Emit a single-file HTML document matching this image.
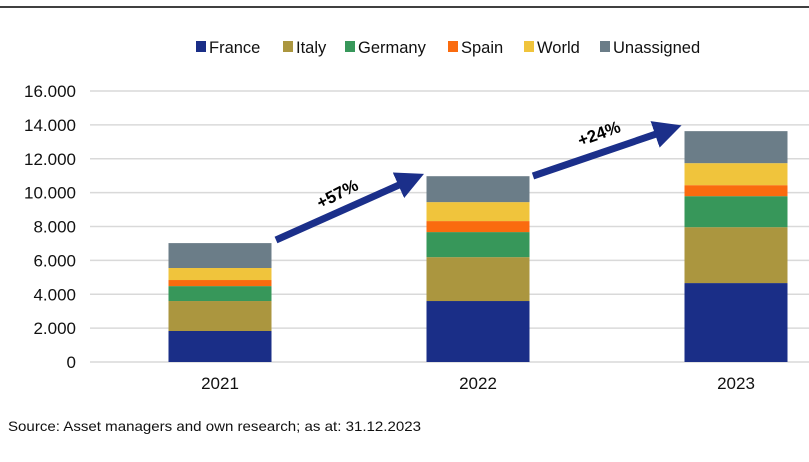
<!DOCTYPE html>
<html><head><meta charset="utf-8"><style>
body{margin:0;background:#fff;font-family:"Liberation Sans",sans-serif;}
svg{display:block}
</style></head><body>
<svg width="809" height="462" id="c">
<line x1="0" y1="7" x2="809" y2="7" stroke="#000" stroke-width="1.5"/>
<g id="grid"></g><g id="bars"></g><g id="legend"></g>
<defs><marker id="ah" markerWidth="4" markerHeight="4" refX="1.5" refY="2" orient="auto" markerUnits="strokeWidth"><path d="M0,0 L4,2 L0,4 Z" fill="#1b2f8a"/></marker></defs>
<line x1="276" y1="240" x2="408" y2="181" stroke="#1b2f8a" stroke-width="7" marker-end="url(#ah)"/>
<line x1="533" y1="176" x2="665" y2="131" stroke="#1b2f8a" stroke-width="7" marker-end="url(#ah)"/>
<text x="340" y="199" transform="rotate(-27 340 199)" font-size="17" font-weight="bold" text-anchor="middle">+57%</text>
<text x="601" y="139" transform="rotate(-20 601 139)" font-size="17" font-weight="bold" text-anchor="middle">+24%</text>
<text x="8" y="431" font-size="14" fill="#111" textLength="413" lengthAdjust="spacingAndGlyphs">Source: Asset managers and own research; as at: 31.12.2023</text>
</svg>
<script>
const categories=["2021","2022","2023"];
const seriesNames=["France","Italy","Germany","Spain","World","Unassigned"];
const colors=["#1a2e87","#ab963f","#37975a","#fa6b0f","#f0c43c","#6b7d88"];
const france=[1830,3600,4660];
const italy=[1770,2590,3300];
const germany=[880,1480,1830];
const spain=[360,650,650];
const world=[710,1120,1300];
const unassigned=[1470,1530,1890];
const yTicks=[0,2000,4000,6000,8000,10000,12000,14000,16000];
const yTickLabels=["0","2.000","4.000","6.000","8.000","10.000","12.000","14.000","16.000"];
const series=[france,italy,germany,spain,world,unassigned];
const NS="http://www.w3.org/2000/svg";
const y=v=>362-v*(271/16000);
const xc=i=>220+i*258;
const bw=103;
function mk(t,a,p){const e=document.createElementNS(NS,t);for(const k in a)e.setAttribute(k,a[k]);p.appendChild(e);return e;}
const g=document.getElementById('grid');
yTicks.forEach((t,i)=>{
 const l=mk('line',{x1:90,x2:809,y1:y(t),y2:y(t),stroke:'#d9d9d9','stroke-width':1.5},g);
 
 
 const tx=mk('text',{x:76,y:y(t)+6,'text-anchor':'end','font-size':17,fill:'#111'},g);
 tx.textContent=yTickLabels[i];
 
 
});
const b=document.getElementById('bars');
categories.forEach((c,i)=>{
 let acc=0;
 series.forEach((s,j)=>{
  const r=mk('rect',{x:xc(i)-bw/2,y:y(acc+s[i]),width:bw,height:y(acc)-y(acc+s[i]),fill:colors[j]},b);
  
  
  acc+=s[i];
 });
 const t=mk('text',{x:xc(i),y:389,'text-anchor':'middle','font-size':17,fill:'#111'},b);
 t.textContent=c;
 
 
});
const lg=document.getElementById('legend');
const lx=[196,283,345,448,524,600];
seriesNames.forEach((n,j)=>{
 const r=mk('rect',{x:lx[j],y:41,width:10,height:11,fill:colors[j]},lg);
 
 
 const t=mk('text',{x:lx[j]+13,y:53,'font-size':16.5,fill:'#111'},lg);
 t.textContent=n;
 
 
});
</script>
</body></html>
